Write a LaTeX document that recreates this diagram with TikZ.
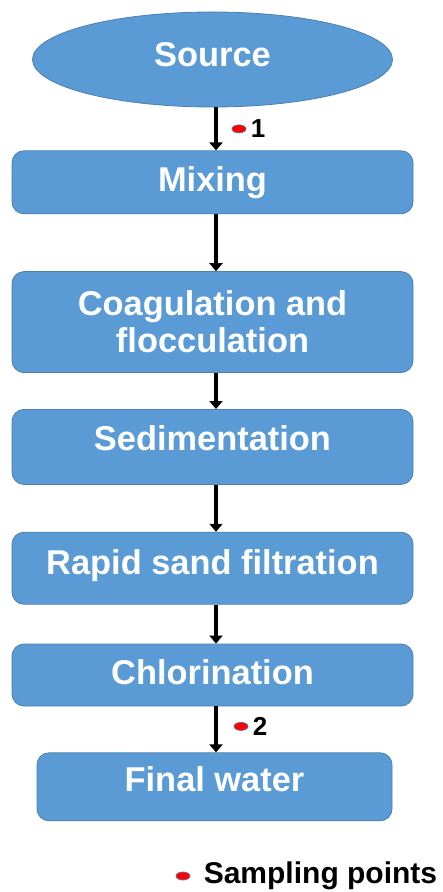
\documentclass[tikz,border=0pt]{standalone}
\usepackage{fontspec}
\setmainfont{Liberation Sans}
\usetikzlibrary{arrows.meta,positioning,shapes.geometric,calc}
\definecolor{boxblue}{HTML}{5B9BD5}
\definecolor{boxline}{HTML}{4A7FB0}
\definecolor{spotline}{HTML}{6A6F9A}

\begin{document}
\begin{tikzpicture}[
 node distance=20pt,
 box/.style={draw=boxline,rounded corners=6pt,fill=boxblue,text=white,
 minimum width=200.5pt,align=center,inner sep=0pt,
 font=\fontsize{17.2}{18.5}\selectfont\bfseries},
 arr/.style={-{Triangle[length=4pt,width=6.5pt]},line width=2pt},
 spot/.style={ellipse,fill=red,draw=spotline,line width=0.4pt,
 minimum width=7pt,minimum height=4pt,inner sep=0pt},
 num/.style={inner sep=0pt,font=\fontsize{13}{15}\selectfont\bfseries}]
\useasboundingbox (0,0) rectangle (221.5pt,-446pt);
\node[box,ellipse,minimum width=180pt,minimum height=47.5pt] (src) at (106.25pt,-29.75pt) {\raisebox{5pt}{Source}};
\node[box,minimum height=31.5pt,below=21.5pt of src] (mix) {Mixing};
\node[box,minimum height=50.5pt,below=28.5pt of mix] (coag) {Coagulation and\\flocculation};
\node[box,minimum height=37.5pt,below=18pt of coag] (sed) {\raisebox{9pt}{Sedimentation}};
\node[box,minimum height=36pt,below=23.5pt of sed] (rsf) {\raisebox{6pt}{Rapid sand filtration}};
\node[box,minimum height=31pt,below=19.5pt of rsf] (chl) {\raisebox{3pt}{Chlorination}};
\node[box,minimum height=34pt,minimum width=177.5pt,below=23pt of chl,xshift=1pt] (fin) {\raisebox{8pt}{Final water}};
\foreach \a/\b in {src/mix,mix/coag,coag/sed,sed/rsf,rsf/chl,chl/fin}
 \draw[arr] ([xshift=1.75pt]\a.south)--([xshift=1.75pt]\a.south |- \b.north);
% sampling points
\node[spot,xshift=13.25pt] (dot1) at ($(src.south)!.5!(mix.north)$) {};
\node[num,right=2pt of dot1] (lab1) {1};
\node[spot,xshift=13.75pt,yshift=1.5pt] (dot2) at ($(chl.south)!.5!(fin.north)$) {};
\node[num,right=2pt of dot2] (lab2) {2};
\node[spot] (key) at (91.5pt,-438pt) {};
\node[inner sep=0pt,right=6.5pt of key,font=\fontsize{15}{18}\selectfont\bfseries] (keytext) {Sampling points};
\end{tikzpicture}
\end{document}
